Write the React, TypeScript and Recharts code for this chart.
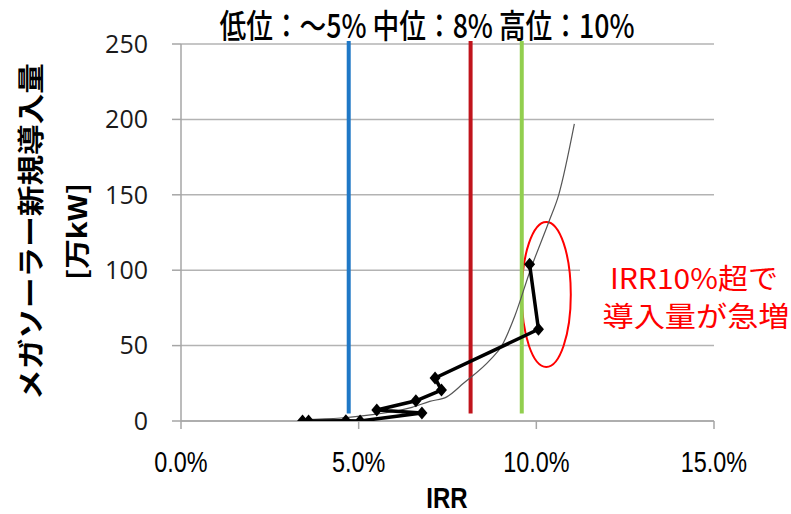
import React from 'react';
import {
  ScatterChart,
  Scatter,
  XAxis,
  YAxis,
  CartesianGrid,
  ReferenceLine,
  ReferenceArea,
  Customized,
} from 'recharts';

// IRR (%) and new mega-solar installations (万kW), in plotted (connection) order
const irrPct = [3.42, 3.59, 4.64, 5.04, 6.78, 5.51, 6.61, 7.33, 7.15, 10.06, 9.81];
const megaSolarAdded = [0, 0, 0.2, 0, 5.3, 7.3, 13.4, 20.5, 28.5, 60.8, 104];

// trend curve
const trendIrr = [3.42, 4.5, 5.5, 6.5, 7.0, 7.48, 7.95, 8.7, 9.03, 9.4, 9.83, 10.35, 10.63, 11.07];
const trendValue = [1, 2, 4.5, 9, 13, 16, 25, 40.5, 50, 70, 100, 132, 150, 197];

// scenario IRR levels: low / mid / high
const scenarioIrr = [4.72, 8.15, 9.59];
const scenarioTop = 252;
const scenarioBottom = 5;

// highlighted region (ellipse bounds)
const ellipseIrr = [9.59, 10.97];
const ellipseValue = [35.8, 132];

const xTicks = [0, 5, 10, 15];
const yTicks = [0, 50, 100, 150, 200, 250];

const titleText = '低位：～5% 中位：8% 高位：10%';
const yLabel1 = 'メガソーラー新規導入量';
const yLabel2 = '[万kW]';
const xLabel = 'IRR';
const note1 = 'IRR10%超で';
const note2 = '導入量が急増';

const scenarioColors = ['#1f78c6', '#c0141c', '#92cf4f'];

const points = irrPct.map((x, i) => ({ x, y: megaSolarAdded[i] }));
const trend = trendIrr.map((x, i) => ({ x, y: trendValue[i] }));

const CJK = "'Noto Sans CJK JP', 'Noto Sans', sans-serif";
const SANS = "Arial, 'Liberation Sans', sans-serif";

const Diamond = (props: any) => {
  const { cx, cy } = props;
  if (cx == null || cy == null) return <g />;
  const w = 5.5;
  const h = 6.5;
  return (
    <polygon
      points={`${cx},${cy - h} ${cx + w},${cy} ${cx},${cy + h} ${cx - w},${cy}`}
      fill="#000"
    />
  );
};

const NoDot = () => <g />;

const XTick = (props: any) => {
  const { x, y, payload } = props;
  return (
    <text
      transform={`translate(${x},${y + 21}) scale(0.78,1)`}
      textAnchor="middle"
      fontFamily={SANS}
      fontSize={30}
      fill="#000"
    >
      {`${Number(payload.value).toFixed(1)}%`}
    </text>
  );
};

const EllipseShape = (props: any) => {
  const { x, y, width, height } = props;
  return (
    <ellipse
      cx={x + width / 2}
      cy={y + height / 2}
      rx={Math.abs(width) / 2}
      ry={Math.abs(height) / 2}
      fill="none"
      stroke="#ff0000"
      strokeWidth={2}
    />
  );
};

const Overlay = () => (
  <g>
    <rect x={580} y={255} width={211} height={82} fill="#fff" />
    <text
      x={427}
      y={38}
      textAnchor="middle"
      fontFamily={CJK}
      fontWeight={500}
      fontSize={33}
      fill="#000"
      textLength={415}
      lengthAdjust="spacingAndGlyphs"
    >
      {titleText}
    </text>
    <text
      transform="translate(29,231.5) rotate(-90)"
      textAnchor="middle"
      dominantBaseline="central"
      fontFamily={CJK}
      fontWeight="bold"
      fontSize={27}
      fill="#000"
      textLength={337}
      lengthAdjust="spacingAndGlyphs"
    >
      {yLabel1}
    </text>
    <text
      transform="translate(75,231.5) rotate(-90)"
      textAnchor="middle"
      dominantBaseline="central"
      fontFamily={CJK}
      fontWeight="bold"
      fontSize={26}
      fill="#000"
      textLength={97}
      lengthAdjust="spacingAndGlyphs"
    >
      {yLabel2}
    </text>
    <text
      transform="translate(447,508) scale(0.8,1)"
      textAnchor="middle"
      fontFamily={SANS}
      fontWeight="bold"
      fontSize={30}
      fill="#000"
    >
      {xLabel}
    </text>
    <text
      x={694}
      y={289}
      textAnchor="middle"
      fontFamily={CJK}
      fontSize={28}
      fill="#ff0000"
      textLength={168}
      lengthAdjust="spacingAndGlyphs"
    >
      {note1}
    </text>
    <text
      x={696}
      y={327}
      textAnchor="middle"
      fontFamily={CJK}
      fontSize={28}
      fill="#ff0000"
      textLength={187}
      lengthAdjust="spacingAndGlyphs"
    >
      {note2}
    </text>
  </g>
);

export default function App() {
  return (
    <div style={{ position: 'absolute', left: 0, top: 0, width: 791, height: 514, background: '#fff' }}>
      <ScatterChart width={791} height={514} margin={{ top: 44, right: 77, bottom: 33, left: 0 }}>
        <CartesianGrid vertical={false} stroke="#b3b3b3" strokeWidth={1.5} />
        <XAxis
          type="number"
          dataKey="x"
          domain={[0, 15]}
          ticks={xTicks}
          allowDataOverflow
          height={60}
          tickSize={8}
          tickMargin={22}
          axisLine={{ stroke: '#a6a6a6', strokeWidth: 1.5 }}
          tickLine={{ stroke: '#a6a6a6', strokeWidth: 1.5 }}
          tick={<XTick />}
        />
        <YAxis
          type="number"
          dataKey="y"
          domain={[0, 250]}
          ticks={yTicks}
          allowDataOverflow
          width={181}
          tickSize={9}
          tickMargin={24}
          axisLine={{ stroke: '#a6a6a6', strokeWidth: 1.5 }}
          tickLine={{ stroke: '#a6a6a6', strokeWidth: 1.5 }}
          tick={{ fontFamily: "'Open Sans', sans-serif", fontSize: 25, fill: '#1a1a1a' }}
        />
        {scenarioIrr.map((v, i) => (
          <ReferenceLine
            key={i}
            segment={[
              { x: v, y: scenarioBottom },
              { x: v, y: scenarioTop },
            ]}
            stroke={scenarioColors[i]}
            strokeWidth={4}
            ifOverflow="visible"
          />
        ))}
        <Scatter
          data={trend}
          line={{ stroke: '#555', strokeWidth: 1.2 }}
          lineJointType="monotoneX"
          shape={NoDot}
          isAnimationActive={false}
        />
        <Scatter
          data={points}
          line={{ stroke: '#000', strokeWidth: 3.5 }}
          shape={Diamond}
          isAnimationActive={false}
        />
        <ReferenceArea
          x1={ellipseIrr[0]}
          x2={ellipseIrr[1]}
          y1={ellipseValue[0]}
          y2={ellipseValue[1]}
          ifOverflow="visible"
          shape={EllipseShape}
        />
        <Customized component={Overlay} />
      </ScatterChart>
    </div>
  );
}
